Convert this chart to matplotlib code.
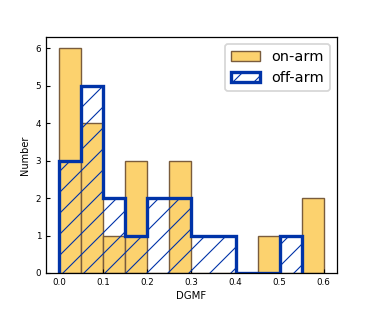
import numpy as np
import matplotlib.pyplot as plt

bin_edges = np.round(np.arange(0, 0.65, 0.05), 2)
on_arm_counts = [6, 4, 1, 3, 0, 3, 0, 0, 0, 1, 0, 2]
off_edges = bin_edges[:12]
off_arm_counts = [3, 5, 2, 1, 2, 2, 1, 1, 0, 0, 1]

centers_on = bin_edges[:-1] + 0.025
centers_off = off_edges[:-1] + 0.025

# saved at a higher dpi so the hatch spacing matches; sizes scaled back
DPI = 126
s = 100 / DPI
plt.rcParams['hatch.linewidth'] = 0.8 * s

fig = plt.figure(figsize=(374 / DPI, 312 / DPI), dpi=DPI)
ax = fig.add_axes([0.123, 0.125, 0.778, 0.757])

ax.hist(centers_on, bins=bin_edges, weights=on_arm_counts, color='#fcd26e',
        edgecolor='#7a5c3c', linewidth=1.0 * s, label='on-arm')
ax.hist(centers_off, bins=off_edges, weights=off_arm_counts, histtype='step',
        hatch='//', edgecolor='#0033a8', linewidth=2.4 * s, label='off-arm')

ax.set_xlabel('DGMF', fontsize=7.3 * s, labelpad=3 * s)
ax.set_ylabel('Number', fontsize=7.0 * s, labelpad=4 * s)
ax.tick_params(direction='in', labelsize=6.3 * s, length=3 * s, width=0.8 * s,
               pad=3.5 * s)
for sp in ax.spines.values():
    sp.set_linewidth(0.9 * s)
ax.set_xticks([0.0, 0.1, 0.2, 0.3, 0.4, 0.5, 0.6])
ax.legend(fontsize=10.4 * s, loc='upper right', borderaxespad=0.5)

plt.savefig('out.png', dpi=DPI)
